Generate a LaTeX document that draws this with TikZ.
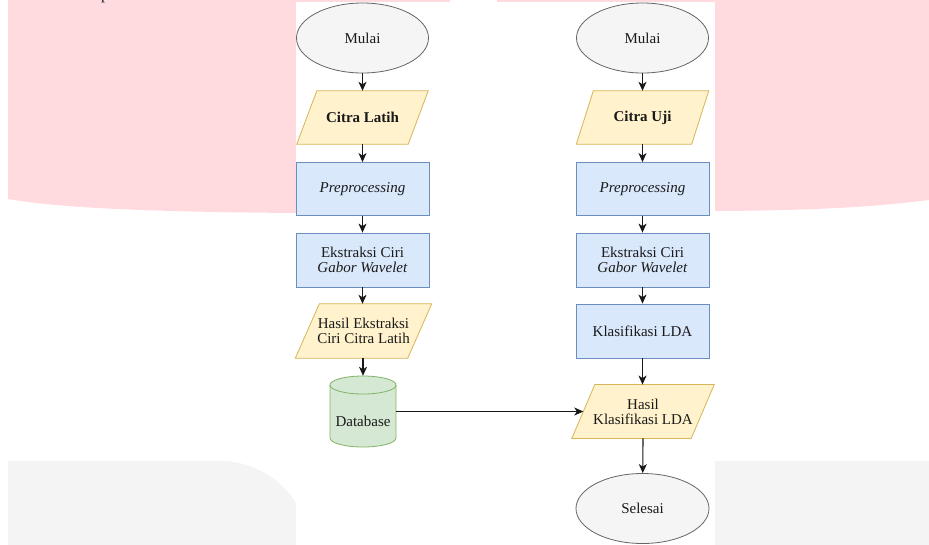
\documentclass[tikz,border=0pt]{standalone}
\usepackage{fontspec}
\setmainfont{Liberation Serif}
\usetikzlibrary{shapes.geometric,arrows.meta,calc}
\definecolor{pinkbg}{HTML}{FFDADE}
\definecolor{graybg}{HTML}{F4F4F4}
\definecolor{termfill}{HTML}{F5F5F5}
\definecolor{termline}{HTML}{666666}
\definecolor{iofill}{HTML}{FFF2CC}
\definecolor{ioline}{HTML}{D6B656}
\definecolor{procfill}{HTML}{DAE8FC}
\definecolor{procline}{HTML}{6C8EBF}
\definecolor{dbfill}{HTML}{D5E8D4}
\definecolor{dbline}{HTML}{82B366}
\definecolor{txt}{HTML}{1A1A1A}
\pgfdeclarelayer{page}
\pgfdeclarelayer{shapes}
\pgfsetlayers{page,shapes,main}
\newcommand{\iopara}[2]{%
  \begin{pgfonlayer}{shapes}
  \draw[draw=ioline, fill=iofill, line width=0.8pt]
    ($(#1.north west)+(#2/2,0)$) -- ($(#1.north east)+(#2/2,0)$) --
    ($(#1.south east)-(#2/2,0)$) -- ($(#1.south west)-(#2/2,0)$) -- cycle;
  \end{pgfonlayer}}
\begin{document}
\begin{tikzpicture}[x=1pt,y=-1pt,
  every node/.style={font=\fontsize{15}{15}\selectfont, text=txt, align=center, inner sep=0pt},
  term/.style={ellipse, draw=termline, fill=termfill, line width=0.8pt, minimum width=132pt, minimum height=70pt},
  io/.style={rectangle, minimum height=53pt},
  proc/.style={rectangle, draw=procline, fill=procfill, line width=0.8pt, minimum width=133pt, minimum height=53pt},
  arr/.style={-{Stealth[length=9pt,width=8pt,inset=2.5pt]}, line width=1.1pt, black!90}
]
\useasboundingbox (0,0) rectangle (929,544);
\clip (0,0) rectangle (929,544);
% page background
\begin{pgfonlayer}{page}
\fill[pinkbg] (8,0) -- (929,0) -- (929,200) .. controls (860,209) and (780,211) .. (700,211) -- (300,213) .. controls (150,212) and (60,208) .. (8,199) -- cycle;
\fill[white] (450,0) rectangle (497,2);
\fill[graybg] (8,551) -- (8,461) -- (220,461) .. controls (269.7,461) and (310,501.3) .. (310,551) -- cycle;
\fill[graybg] (700,461) rectangle (929,551);
\fill[white] (296,2) rectangle (715,551);
\end{pgfonlayer}
\node[anchor=base, font=\fontsize{16}{16}\selectfont] (ptxt) at (105,-1) {p};

% left column
\node[term] (m1) at (362.5,38) {Mulai};
\node[io, minimum width=111pt] (c1) at (362.5,117.5) {\textbf{Citra Latih}};
\iopara{c1}{20}
\node[proc] (p1) at (362.5,189) {\textit{Preprocessing}};
\node[proc, minimum height=54pt] (e1) at (362.5,260) {Ekstraksi Ciri\\\textit{Gabor Wavelet}};
\node[io, minimum width=112pt, minimum height=54pt] (h1) at (363.5,331) {Hasil Ekstraksi\\Ciri Citra Latih};
\iopara{h1}{24}
\node[minimum width=66pt, minimum height=71pt] (db) at (363,411.5) {};
\fill[dbfill] (330,385) -- (330,438) .. controls (330,443) and (344.8,447) .. (363,447) .. controls (381.2,447) and (396,443) .. (396,438) -- (396,385) -- cycle;
\draw[dbline, line width=0.8pt] (330,385) -- (330,438) .. controls (330,443) and (344.8,447) .. (363,447) .. controls (381.2,447) and (396,443) .. (396,438) -- (396,385);
\draw[dbline, fill=dbfill, line width=0.8pt] (363,385) ellipse [x radius=33pt, y radius=9pt];
\node (dbt) at (363,421) {Database};

% right column
\node[term] (m2) at (642.5,38) {Mulai};
\node[io, minimum width=115pt] (c2) at (642.5,117.5) {\textbf{Citra Uji}};
\iopara{c2}{17}
\node[proc] (p2) at (642.5,189) {\textit{Preprocessing}};
\node[proc, minimum height=54pt] (e2) at (642.5,260) {Ekstraksi Ciri\\\textit{Gabor Wavelet}};
\node[proc, minimum height=54pt] (k2) at (642.5,331) {Klasifikasi LDA};
\node[io, minimum width=119pt, minimum height=53.5pt] (h2) at (643,411.5) {Hasil\\Klasifikasi LDA};
\iopara{h2}{23}
\node[term, minimum width=133pt, minimum height=70pt] (s2) at (642.5,508.5) {Selesai};

% connectors
\draw[arr] (m1) -- (c1);
\draw[arr] (c1) -- (p1);
\draw[arr] (p1) -- (e1);
\draw[arr] (e1) -- (e1 |- h1.north);
\draw[arr] (h1.south -| db) -- (db);
\draw[arr] (m2) -- (c2);
\draw[arr] (c2) -- (p2);
\draw[arr] (p2) -- (e2);
\draw[arr] (e2) -- (k2);
\draw[arr] (k2) -- (k2 |- h2.north);
\draw[arr] (db.east) -- (h2.west);
\draw[arr] (h2.south) -- (s2);
\end{tikzpicture}
\end{document}
